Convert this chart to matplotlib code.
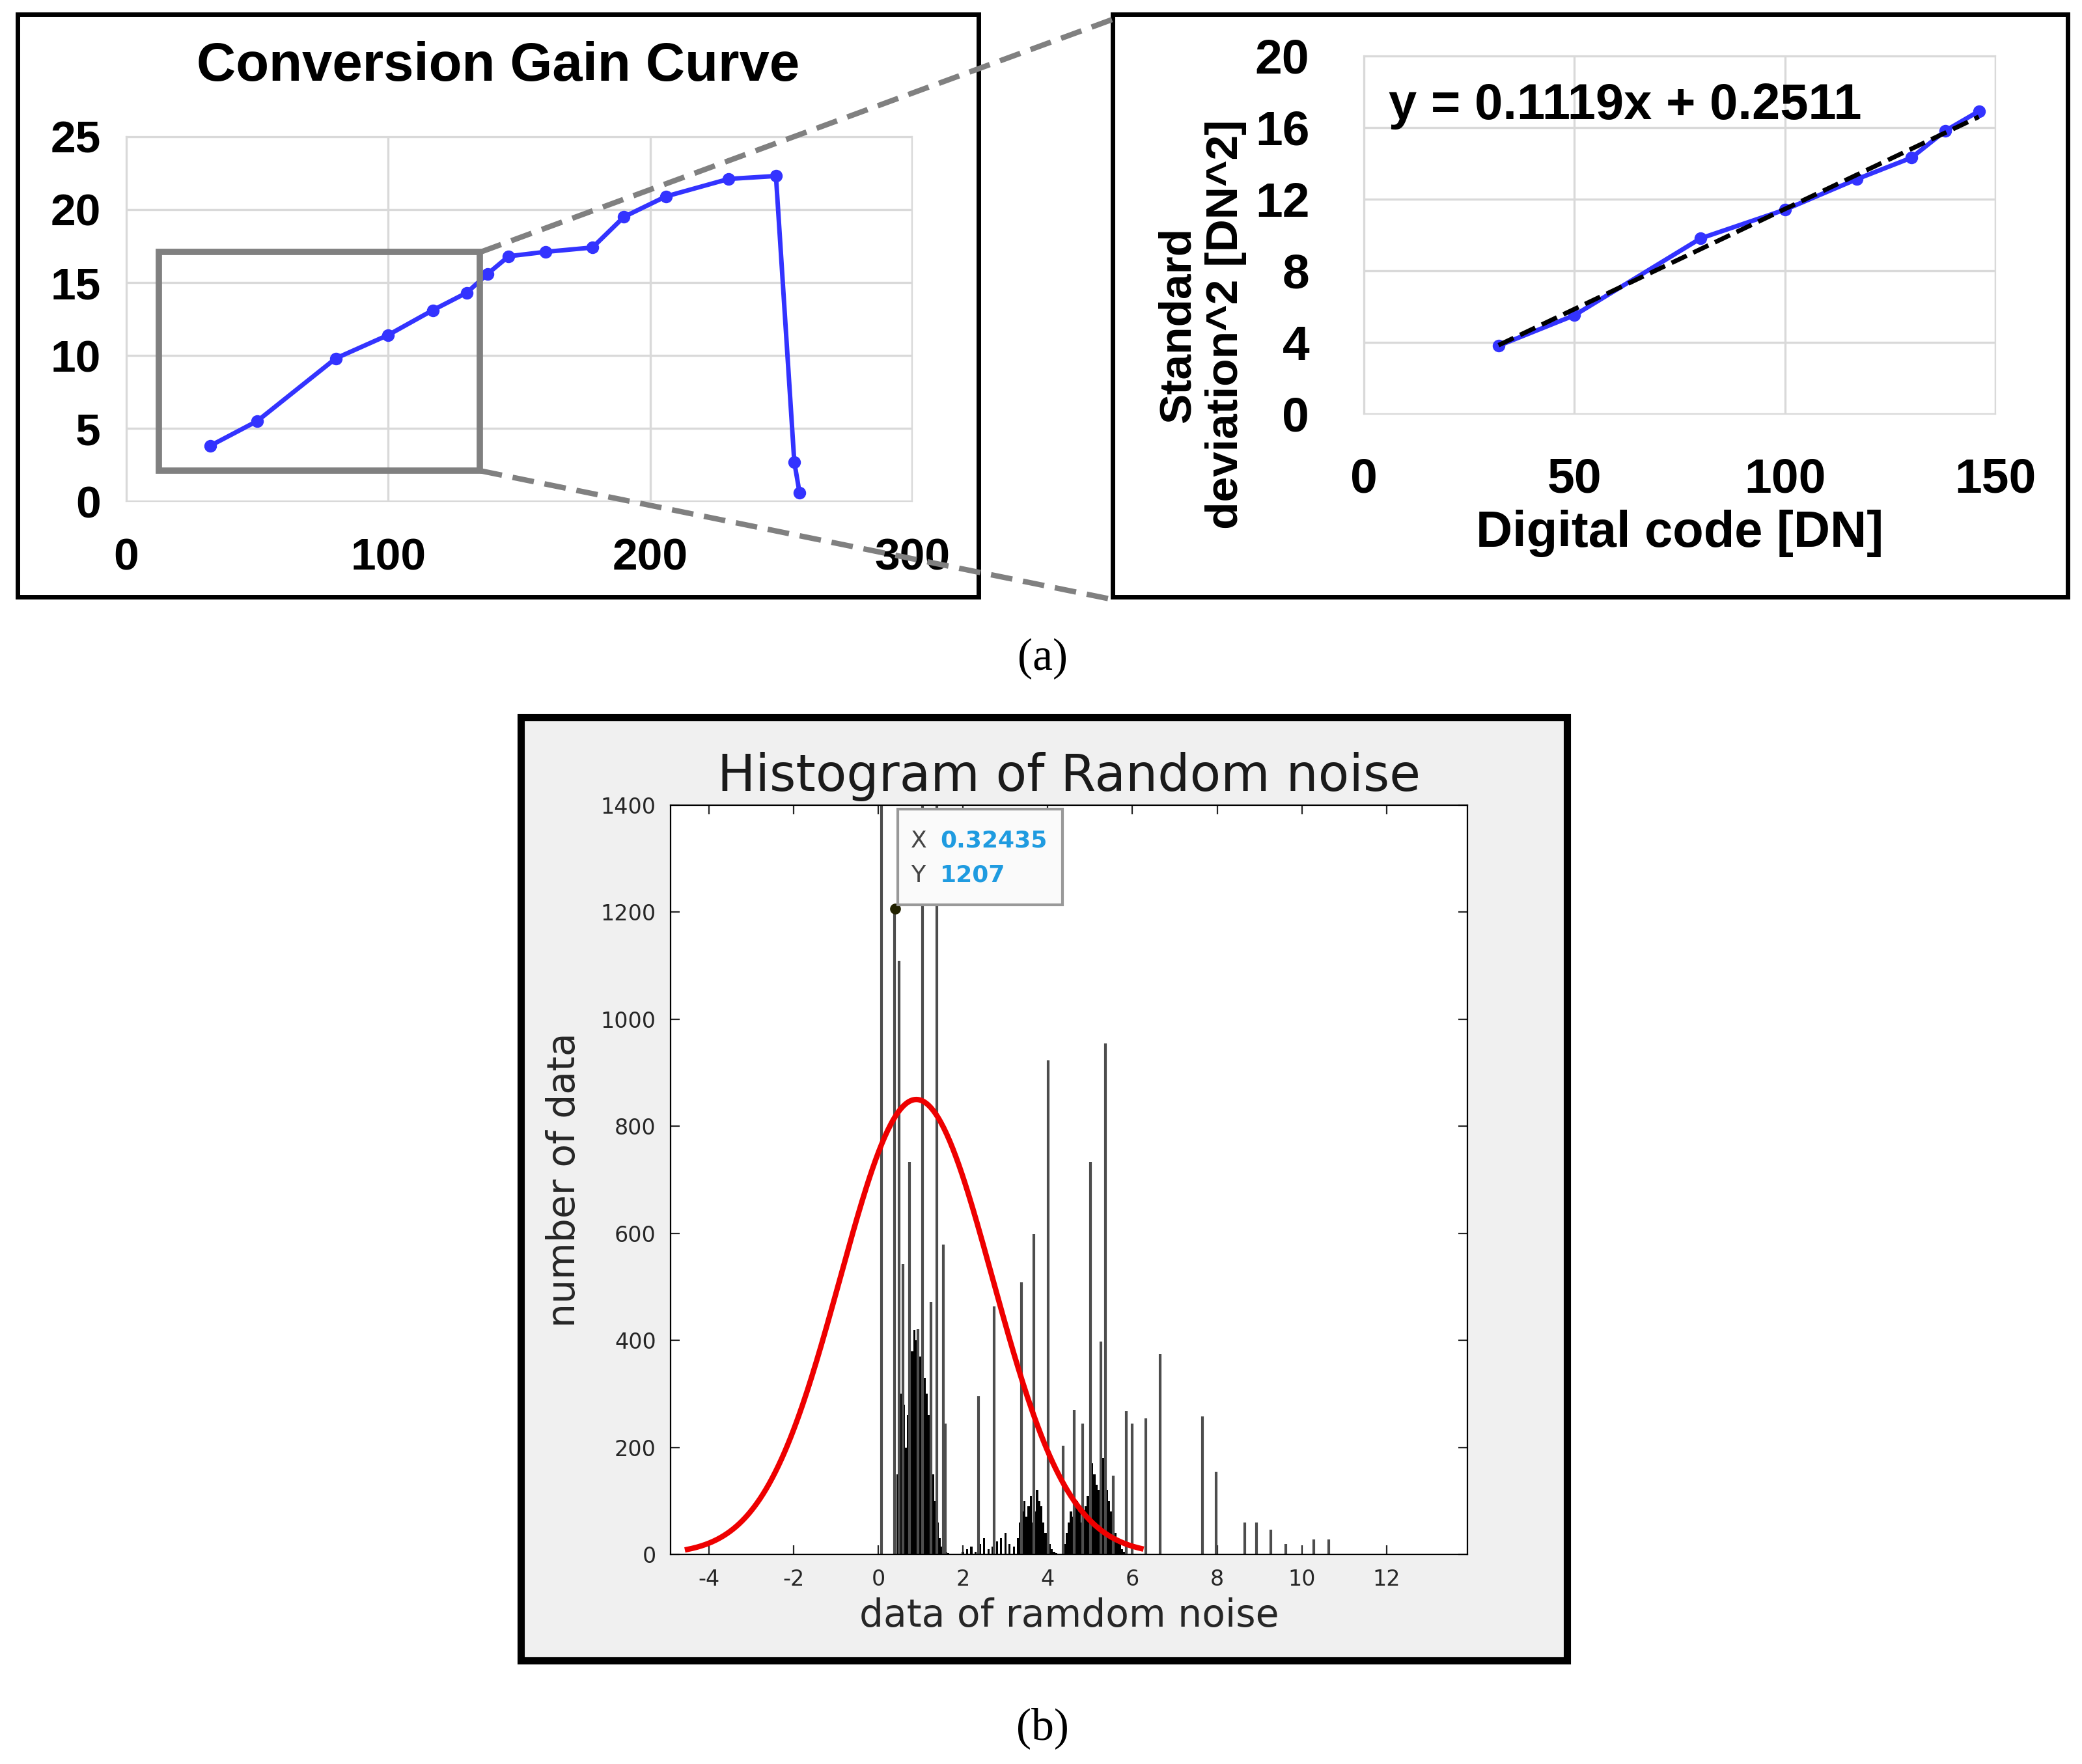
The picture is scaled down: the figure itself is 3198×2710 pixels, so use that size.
import matplotlib
matplotlib.use("Agg")
from matplotlib import pyplot as plt
from matplotlib.patches import Rectangle
from matplotlib.lines import Line2D
import numpy as np

plt.rcParams["axes.unicode_minus"] = False

# ---- data: conversion gain curve
gain_x = [32, 50, 80, 100, 117, 130, 138, 146, 160, 178, 190, 206, 230, 248, 255, 257]
gain_y = [3.8, 5.5, 9.8, 11.4, 13.1, 14.3, 15.6, 16.8, 17.1, 17.4, 19.5, 20.9, 22.1, 22.3, 2.7, 0.6]

# ---- data: zoomed linear region
zoom_x = [32, 50, 80, 100, 117, 130, 138, 146]
zoom_y = [3.8, 5.5, 9.8, 11.4, 13.1, 14.3, 15.8, 16.9]
fit_slope = 0.1119
fit_icpt = 0.2511

# ---- data: histogram of random noise
spike_x = [0.08, 0.39, 0.50, 0.58, 0.74, 0.94, 1.04, 1.24, 1.38, 1.53, 1.58, 2.37, 2.73,
           3.38, 3.67, 4.01, 4.37, 4.62, 4.82, 5.01, 5.25, 5.36, 5.55, 5.85, 6.00, 6.32,
           6.65, 7.65, 7.98, 8.65, 8.93, 9.27, 9.62, 10.28, 10.63]
spike_h = [1400, 1207, 1109, 542, 733, 421, 1400, 472, 1400, 579, 245, 296, 463,
           509, 598, 923, 203, 270, 245, 733, 398, 955, 147, 268, 245, 254,
           375, 258, 154, 60, 60, 46, 19, 28, 28]
clu1_x = [0.45, 0.50, 0.55, 0.60, 0.65, 0.70, 0.75, 0.80, 0.85, 0.90, 0.95, 1.00, 1.05,
          1.10, 1.15, 1.20, 1.25, 1.30, 1.35, 1.40, 1.45, 1.50, 1.55, 1.60, 1.65]
clu1_h = [150, 250, 300, 280, 200, 260, 330, 380, 420, 400, 390, 370, 350,
          330, 300, 260, 220, 150, 100, 60, 30, 15, 10, 5, 3]
clu2_x = [2.0, 2.1, 2.2, 2.3, 2.4, 2.5, 2.6, 2.7, 2.8, 2.9, 3.0, 3.1, 3.2]
clu2_h = [5, 10, 15, 5, 20, 30, 10, 15, 25, 30, 40, 20, 15]
clu3_x = [3.30, 3.35, 3.40, 3.45, 3.50, 3.55, 3.60, 3.65, 3.70, 3.75, 3.80, 3.85, 3.90,
          3.95, 4.00, 4.05, 4.10, 4.15, 4.20]
clu3_h = [30, 60, 80, 100, 70, 90, 110, 60, 80, 120, 100, 90, 60, 40, 30, 20, 10, 5, 3]
clu4_x = [4.40, 4.45, 4.50, 4.55, 4.60, 4.65, 4.70, 4.75, 4.80, 4.85, 4.90, 4.95, 5.00,
          5.05, 5.10, 5.15, 5.20, 5.25, 5.30, 5.35, 5.40, 5.45, 5.50, 5.55, 5.60, 5.65,
          5.70, 5.75, 5.80]
clu4_h = [20, 40, 60, 80, 70, 90, 100, 80, 60, 70, 90, 110, 140, 170, 150, 130, 120,
          160, 180, 140, 120, 100, 80, 60, 40, 30, 20, 10, 5]
fit_mu, fit_sigma, fit_peak = 0.9, 1.8, 850
tip_x, tip_y = 0.32435, 1207

W, H = 1568.0, 1330.0
def fx(px): return px / W
def fy(py): return 1 - py / H
def rect(l, t, r, b): return [fx(l), fy(b), (r - l) / W, (b - t) / H]

fig = plt.figure(figsize=(15.99, 13.55), dpi=200)
fig.patch.set_facecolor("white")
bold = dict(family="Liberation Sans", weight="bold")

# panel borders (a)
for l, t, r, b in [(13, 11, 737, 450), (838, 11, 1557, 450)]:
    fig.add_artist(Rectangle((fx(l), fy(b)), (r - l) / W, (b - t) / H, transform=fig.transFigure,
                             fill=False, lw=2.5, ec="black"))

# left: conversion gain curve
ax1 = fig.add_axes(rect(95, 103, 687, 378))
ax1.plot(gain_x, gain_y, "-o", color="#3333ff", lw=2.5, ms=6)
ax1.set_xlim(0, 300); ax1.set_ylim(0, 25)
ax1.set_xticks([0, 100, 200, 300]); ax1.set_yticks([0, 5, 10, 15, 20, 25])
ax1.grid(color="#d9d9d9", lw=1.2)
for s in ax1.spines.values(): s.set_color("#d9d9d9")
ax1.tick_params(axis="x", length=0, pad=20)
ax1.tick_params(axis="y", length=0, pad=14)
for lab in ax1.get_xticklabels() + ax1.get_yticklabels(): lab.set_fontproperties(dict(bold, size=25))
fig.text(fx(375), fy(50), "Conversion Gain Curve", ha="center", va="center", size=30, **bold)
ax1.add_patch(Rectangle((12.5, 2.1), 122.5, 15.0, fill=False, lw=3.5, ec="#808080", zorder=5))

# zoom lines
fig.add_artist(Line2D([fx(362), fx(845)], [fy(190), fy(12)], transform=fig.transFigure,
                      color="#808080", lw=3, ls=(0, (4, 2))))
fig.add_artist(Line2D([fx(362), fx(838)], [fy(355), fy(452)], transform=fig.transFigure,
                      color="#808080", lw=3, ls=(0, (4, 2))))

# right: linear fit
ax2 = fig.add_axes(rect(1027, 42, 1503, 312))
ax2.plot(zoom_x, zoom_y, "-o", color="#3333ff", lw=2.5, ms=6)
fx_line = np.array([zoom_x[0], zoom_x[-1]])
ax2.plot(fx_line, fit_slope * fx_line + fit_icpt, "--", color="black", lw=2.5)
ax2.set_xlim(0, 150); ax2.set_ylim(0, 20)
ax2.set_xticks([0, 50, 100, 150]); ax2.set_yticks([0, 4, 8, 12, 16, 20])
ax2.grid(color="#d9d9d9", lw=1.2)
for s in ax2.spines.values(): s.set_color("#d9d9d9")
ax2.tick_params(axis="x", length=0, pad=24)
ax2.tick_params(axis="y", length=0, pad=30)
for lab in ax2.get_xticklabels() + ax2.get_yticklabels(): lab.set_fontproperties(dict(bold, size=27))
ax2.set_xlabel("Digital code [DN]", fontdict=dict(bold, size=28), labelpad=4)
ax2.set_ylabel("Standard\ndeviation^2 [DN^2]", fontdict=dict(bold, size=25))
ax2.yaxis.set_label_coords(-0.185, 0.25)
ax2.text(6, 17.2, "y = 0.1119x + 0.2511", size=28, va="center", **bold)

fig.text(fx(785), fy(497), "(a)", ha="center", va="center", size=25, family="Liberation Serif")

# panel (b)
fig.add_artist(Rectangle((fx(392), fy(1252)), (1180 - 392) / W, (1252 - 541) / H,
                         transform=fig.transFigure, fc="#f0f0f0", ec="black", lw=4, zorder=0))
ax3 = fig.add_axes(rect(505, 607, 1105, 1172))
for cx, ch in [(clu1_x, clu1_h), (clu2_x, clu2_h), (clu3_x, clu3_h), (clu4_x, clu4_h)]:
    ax3.bar(cx, ch, width=0.05, color="black", lw=0)
ax3.vlines(spike_x, 0, spike_h, color="#4d4d4d", lw=1.5)
gx = np.linspace(-4.5, 6.2, 300)
ax3.plot(gx, fit_peak * np.exp(-0.5 * ((gx - fit_mu) / fit_sigma) ** 2), color="#ee0000", lw=3)
ax3.plot(tip_x + 0.07, tip_y, "o", color="#222200", ms=5)
ax3.set_xlim(-4.9, 13.9); ax3.set_ylim(0, 1400)
ax3.set_xticks(range(-4, 13, 2)); ax3.set_yticks(range(0, 1401, 200))
ax3.tick_params(direction="in", top=True, right=True, labelsize=12, colors="#262626", length=5, pad=8)
ax3.set_title("Histogram of Random noise", size=28, color="#1a1a1a", pad=8)
ax3.set_xlabel("data of ramdom noise", size=21, color="#262626", labelpad=4)
ax3.set_ylabel("number of data", size=21, color="#262626", labelpad=10)
fig.add_artist(Rectangle((fx(676), fy(682)), 124 / W, 72 / H, transform=fig.transFigure,
                         fc="#fafafa", ec="#999999", lw=1.5, zorder=10))
fig.text(fx(686), fy(634), "X", size=13, color="#444444", va="center", zorder=11)
fig.text(fx(708), fy(634), "0.32435", size=13, color="#1f9be0", weight="bold", va="center", zorder=11)
fig.text(fx(686), fy(660), "Y", size=13, color="#444444", va="center", zorder=11)
fig.text(fx(708), fy(660), "1207", size=13, color="#1f9be0", weight="bold", va="center", zorder=11)

fig.text(fx(785), fy(1303), "(b)", ha="center", va="center", size=25, family="Liberation Serif")

fig.savefig("out.png", dpi=200)
